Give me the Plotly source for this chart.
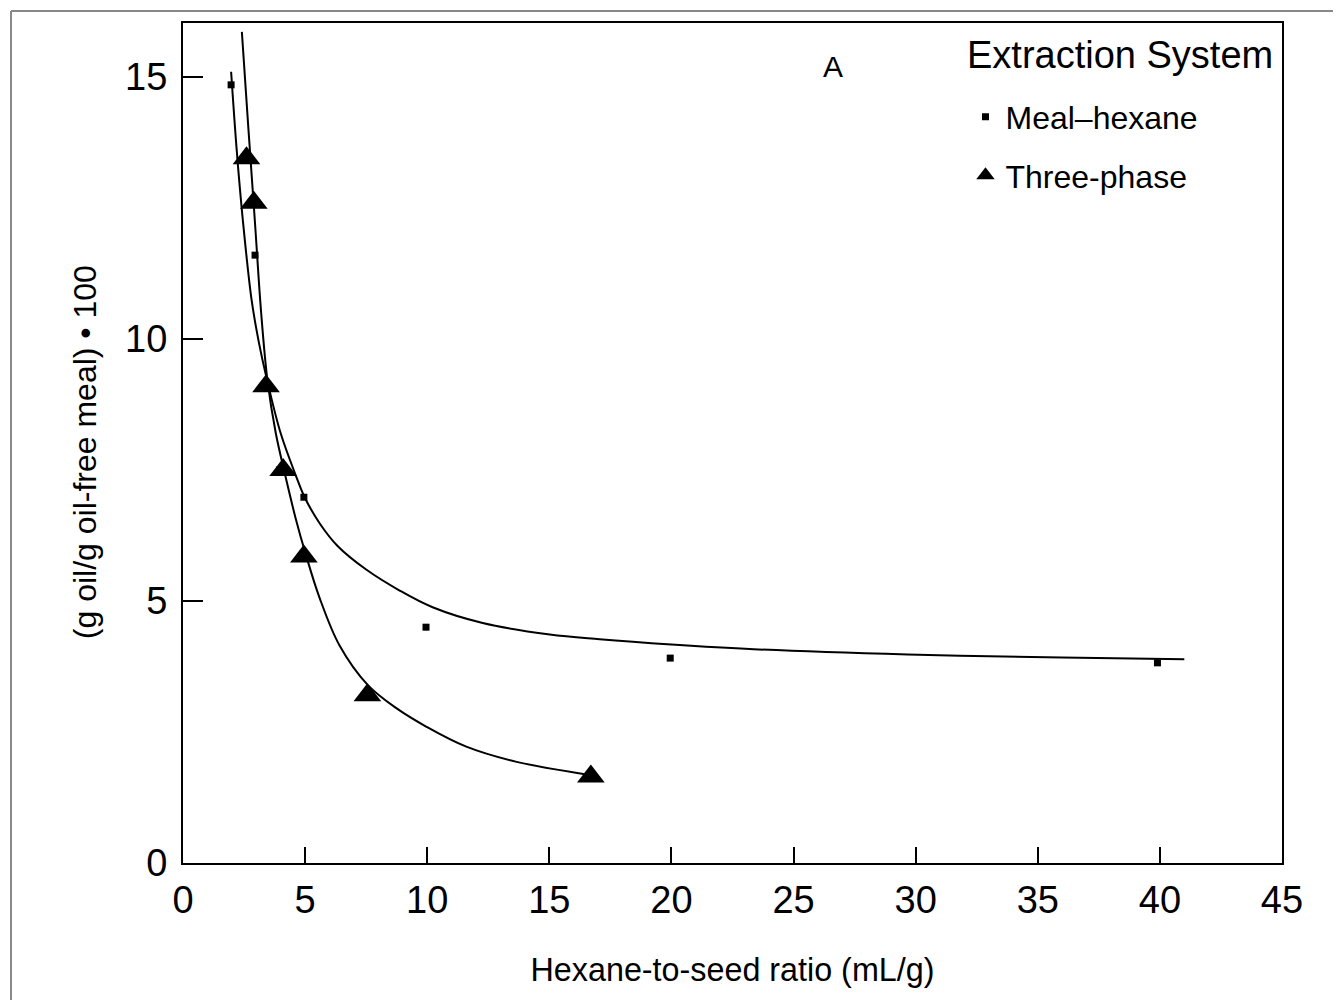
import plotly.graph_objects as go

# ---- data ----
meal_x = [1.97, 2.95, 3.95, 4.95, 9.95, 19.95, 39.9]
meal_y = [14.85, 11.6, 7.5, 6.98, 4.5, 3.91, 3.82]

three_x = [2.6, 2.9, 3.4, 4.1, 4.95, 7.55, 16.7]
three_y = [13.45, 12.6, 9.1, 7.5, 5.85, 3.2, 1.65]

# fitted curves
meal_fit_x = [1.97, 2.2, 2.45, 2.81, 3.1, 3.41, 4.0, 4.64, 4.98, 5.6, 6.33, 7.5, 8.87,
              10.22, 12.27, 15.02, 17.06, 20.0, 23.37, 29.68, 35.99, 41.0]
meal_fit_y = [15.10, 13.6, 12.27, 10.74, 9.95, 9.28, 8.2, 7.37, 6.98, 6.48, 6.05, 5.6, 5.2,
              4.88, 4.58, 4.36, 4.27, 4.17, 4.08, 3.98, 3.92, 3.89]

three_fit_x = [2.41, 2.68, 2.95, 3.2, 3.46, 3.8, 4.16, 4.6, 5.02, 5.6, 6.41, 7.56, 8.75,
               9.97, 11.6, 13.66, 16.65]
three_fit_y = [15.86, 14.0, 12.2, 10.5, 9.2, 8.2, 7.45, 6.6, 5.9, 5.05, 4.15, 3.4, 2.95,
               2.6, 2.22, 1.93, 1.68]

x_ticks = [0, 5, 10, 15, 20, 25, 30, 35, 40, 45]
y_ticks = [0, 5, 10, 15]

FONT = "Liberation Sans, Arial, Helvetica, sans-serif"

fig = go.Figure()

fig.add_trace(go.Scatter(x=meal_fit_x, y=meal_fit_y, mode="lines",
                         line=dict(color="black", width=2, shape="spline", smoothing=1.0),
                         showlegend=False, hoverinfo="skip"))
fig.add_trace(go.Scatter(x=three_fit_x, y=three_fit_y, mode="lines",
                         line=dict(color="black", width=2, shape="spline", smoothing=1.0),
                         showlegend=False, hoverinfo="skip"))

fig.add_trace(go.Scatter(x=meal_x, y=meal_y, mode="markers", name="Meal\u2013hexane",
                         legendgroup="a",
                         marker=dict(symbol="square", size=7, color="black")))
fig.add_trace(go.Scatter(x=three_x, y=three_y, mode="markers", name="Three-phase",
                         legendgroup="b",
                         marker=dict(symbol="triangle-up", size=24, color="black")))

fig.update_layout(
    width=1333, height=992,
    margin=dict(l=175, r=59, t=15, b=137),
    paper_bgcolor="white", plot_bgcolor="white",
    font=dict(family=FONT, color="black"),
    legend=dict(
        font=dict(size=32, family=FONT),
        x=0.712, xanchor="left", y=0.921, yanchor="top",
        bgcolor="rgba(0,0,0,0)", tracegroupgap=14, itemsizing="trace",
    ),
    xaxis=dict(range=[0, 45], tickvals=x_ticks, ticktext=[str(v) for v in x_ticks],
               ticks="inside", ticklen=16, tickwidth=2, tickcolor="black",
               showline=True, linewidth=2, linecolor="black", mirror=True,
               showgrid=False, zeroline=False,
               tickfont=dict(size=38, family=FONT), ticklabelstandoff=2,
               title=dict(text="Hexane-to-seed ratio (mL/g)", font=dict(size=32.3, family=FONT),
                          standoff=39)),
    yaxis=dict(range=[0, 16.03], tickvals=y_ticks, ticktext=[str(v) for v in y_ticks],
               ticks="inside", ticklen=20, tickwidth=2, tickcolor="black",
               showline=True, linewidth=2, linecolor="black", mirror=True,
               showgrid=False, zeroline=False,
               tickfont=dict(size=38, family=FONT), ticklabelstandoff=6),
    annotations=[
        dict(x=26.6, y=15.2, xref="x", yref="y", text="A", showarrow=False,
             font=dict(size=30, family=FONT)),
        dict(x=0.7116, y=0.962, xref="paper", yref="paper", text="Extraction System",
             showarrow=False, xanchor="left", yanchor="middle",
             font=dict(size=38, family=FONT)),
        dict(x=-0.0892, y=0.489, xref="paper", yref="paper",
             text="(g oil/g oil-free meal) \u2022 100", textangle=-90,
             showarrow=False, xanchor="center", yanchor="middle",
             font=dict(size=32, family=FONT)),
    ],
    shapes=[
        dict(type="line", xref="paper", yref="paper", x0=-0.1565, x1=1.07, y0=1.0143, y1=1.0143,
             line=dict(color="#888888", width=2)),
        dict(type="line", xref="paper", yref="paper", x0=-0.1565, x1=-0.1565, y0=1.0143, y1=-0.18,
             line=dict(color="#888888", width=2)),
    ],
)

fig.write_html("out.html")
